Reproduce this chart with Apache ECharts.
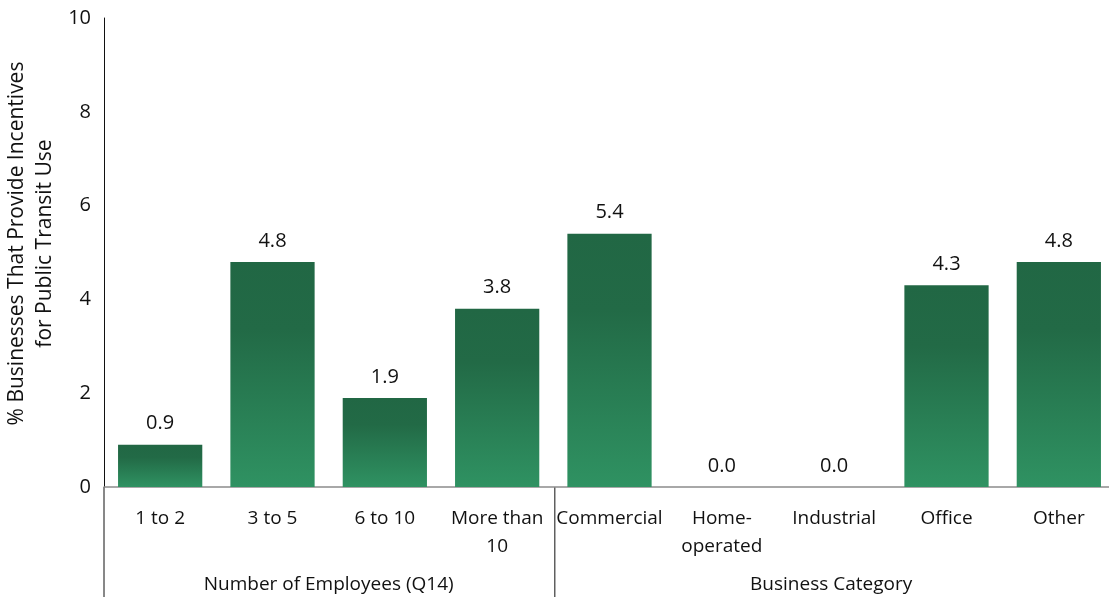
<!DOCTYPE html>
<html>
<head>
<meta charset="utf-8">
<script src="https://cdn.jsdelivr.net/npm/echarts@6/dist/echarts.min.js"></script>
<style>
  html, body { margin: 0; padding: 0; background: #fff; }
  #chart { width: 1109px; height: 597px; }
</style>
</head>
<body>
<div id="chart"></div>
<script>
// Categories along the x axis (two groups of bars)
const categories = ['1 to 2', '3 to 5', '6 to 10', 'More than\n10',
                    'Commercial', 'Home-\noperated', 'Industrial', 'Office', 'Other'];
// Share of businesses offering transit incentives, in percent
const values = [0.9, 4.8, 1.9, 3.8, 5.4, 0.0, 0.0, 4.3, 4.8];
// Group captions below the category labels (first and last category index)
const groupNames = ['Number of Employees (Q14)', 'Business Category'];
const groupStarts = [0, 4];
const groupEnds = [3, 8];
// Value axis ticks
const yMin = 0, yMax = 10, yStep = 2;
const yTitle = '% Businesses That Provide Incentives\nfor Public Transit Use';

const FONT = 'Open Sans';
const chart = echarts.init(document.getElementById('chart'));

chart.setOption({
  animation: false,
  backgroundColor: '#fff',
  grid: { left: 104, top: 18, width: 1011, bottom: 110, outerBoundsMode: 'none' },
  xAxis: {
    type: 'category',
    data: categories,
    axisLine: { show: true, lineStyle: { color: '#8c8c8c', width: 1.5 } },
    axisTick: { show: false },
    axisLabel: {
      interval: 0, margin: 18, color: '#111', fontFamily: FONT, fontSize: 19,
      lineHeight: 28
    }
  },
  yAxis: {
    type: 'value', min: yMin, max: yMax, interval: yStep,
    splitLine: { show: false },
    axisTick: { show: false },
    axisLine: { show: true, lineStyle: { color: '#111', width: 1 } },
    axisLabel: { margin: 13, color: '#111', fontFamily: FONT, fontSize: 20 },
    name: yTitle,
    nameLocation: 'middle',
    nameRotate: 90,
    nameGap: 45,
    nameMoveOverlap: false,
    nameTextStyle: { color: '#111', fontFamily: FONT, fontSize: 21, lineHeight: 28,
                     padding: [0, 0, 0, 18] }
  },
  series: [{
    type: 'bar',
    data: values,
    barWidth: '75%',
    itemStyle: {
      color: new echarts.graphic.LinearGradient(0, 0, 0, 1, [
        { offset: 0, color: '#216744' },
        { offset: 0.3, color: '#226a46' },
        { offset: 1, color: '#2f9262' }
      ])
    },
    label: {
      show: true, position: 'top', distance: 11,
      color: '#111', fontFamily: FONT, fontSize: 20,
      formatter: p => p.value.toFixed(1)
    }
  }]
});

// Group separators and captions, placed from the axis scales
function drawGroups() {
  const c = categories.map((_, i) => chart.convertToPixel({ xAxisIndex: 0 }, i));
  const band = c[1] - c[0];
  const y0 = chart.convertToPixel({ yAxisIndex: 0 }, 0);
  const xLeft = c[0] - band / 2;
  const H = chart.getHeight();
  const elements = [
    { type: 'line', shape: { x1: xLeft, y1: y0, x2: xLeft, y2: H },
      style: { stroke: '#111', lineWidth: 1 }, silent: true }
  ];
  groupNames.forEach((name, g) => {
    const a = c[groupStarts[g]] - band / 2;
    const b = Math.min(c[groupEnds[g]] + band / 2, chart.getWidth());
    if (g > 0) {
      elements.push({ type: 'line', shape: { x1: a + 1.5, y1: y0, x2: a + 1.5, y2: H },
        style: { stroke: '#111', lineWidth: 1 }, silent: true });
    }
    elements.push({ type: 'text', x: (a + b) / 2, y: y0 + 98,
      style: { text: name, fill: '#111', font: '19px "' + FONT + '"',
               align: 'center', verticalAlign: 'middle' }, silent: true });
  });
  chart.setOption({ graphic: elements });
}
drawGroups();
</script>
</body>
</html>
